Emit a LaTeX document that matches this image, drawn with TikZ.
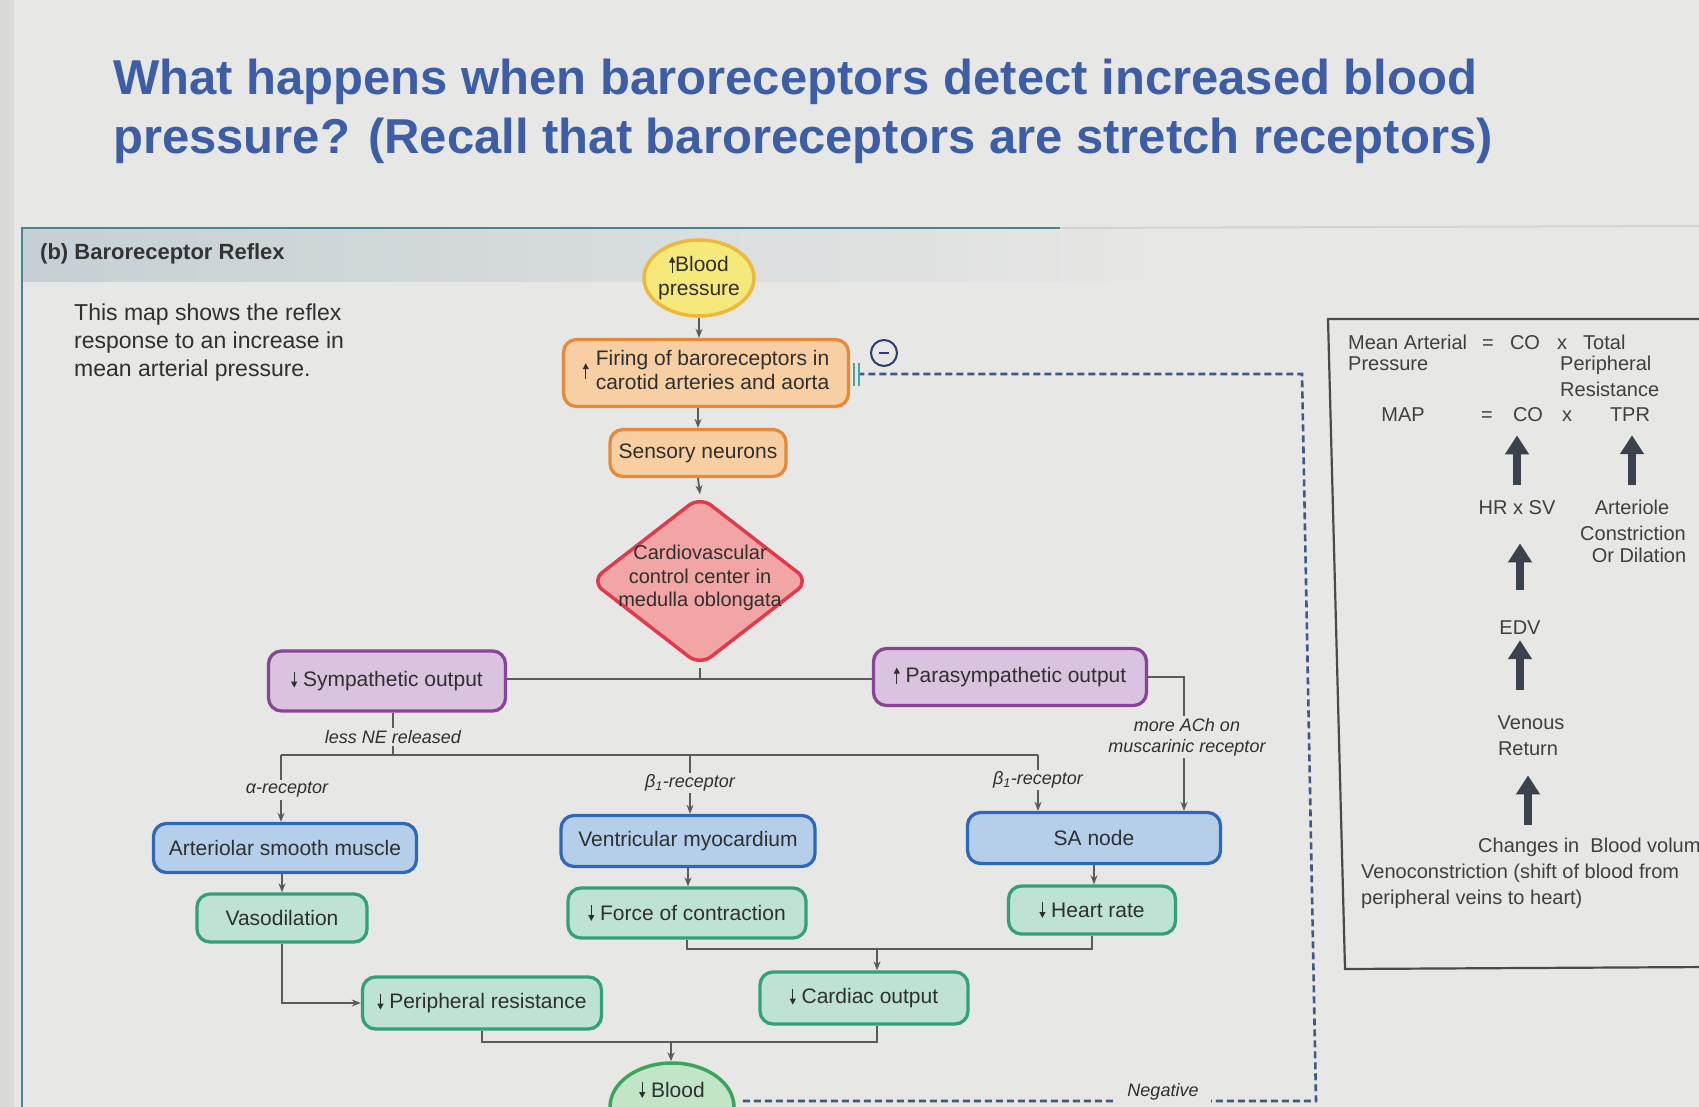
\documentclass[tikz,border=0pt]{standalone}
\usepackage{fontspec}
\setmainfont{Liberation Sans}
\usetikzlibrary{shapes.geometric,arrows.meta,calc}
\definecolor{bg}{HTML}{E7E7E5}
\definecolor{edgeC}{HTML}{DADAD8}
\definecolor{band}{HTML}{C6D0D4}
\definecolor{panelC}{HTML}{4A8494}
\definecolor{faint}{HTML}{D2D4D4}
\definecolor{titleC}{HTML}{3D5EA6}
\definecolor{hdrC}{HTML}{333333}
\definecolor{txt}{HTML}{2F2F2F}
\definecolor{orgL}{HTML}{F7CFA3}
\definecolor{orgD}{HTML}{E8893A}
\definecolor{yelL}{HTML}{F5E97C}
\definecolor{yelD}{HTML}{EDB93A}
\definecolor{redL}{HTML}{F2A5A5}
\definecolor{redD}{HTML}{E03A4C}
\definecolor{purL}{HTML}{D9C3DF}
\definecolor{purD}{HTML}{8A4497}
\definecolor{bluL}{HTML}{B5CFEA}
\definecolor{bluD}{HTML}{2E69B9}
\definecolor{grnL}{HTML}{BEE3D3}
\definecolor{grnD}{HTML}{33A07C}
\definecolor{bldL}{HTML}{C2E5C8}
\definecolor{bldD}{HTML}{3DA45C}
\definecolor{lineC}{HTML}{5B5B5B}
\definecolor{fbC}{HTML}{3E5A84}
\definecolor{navy}{HTML}{2B3D6E}
\definecolor{tealI}{HTML}{4AA39C}
\definecolor{rpC}{HTML}{3F3F3F}
\definecolor{arrC}{HTML}{3A424C}
\definecolor{boxC}{HTML}{4A4A4A}
\newcommand\uarr{\tikz[baseline=0pt]\draw[draw=txt, line width=1.1pt, -{Triangle[length=6pt,width=6pt]}] (0pt,-1pt) -- (0pt,15pt);}
\newcommand\darr{\tikz[baseline=0pt]\draw[draw=txt, line width=1.1pt, -{Triangle[length=6pt,width=6pt]}] (0pt,15pt) -- (0pt,-1pt);}
\begin{document}
\begin{tikzpicture}[x=1pt,y=-1pt]
\tikzset{
 nd/.style={rounded corners=13pt, line width=3.3pt, inner sep=0pt, align=center,
   font=\fontsize{21}{24}\selectfont, text=txt},
 ob/.style={nd, draw=orgD, fill=orgL},
 pb/.style={nd, draw=purD, fill=purL},
 bb/.style={nd, draw=bluD, fill=bluL},
 gb/.style={nd, draw=grnD, fill=grnL},
 sz/.style 2 args={minimum width=#1pt, minimum height=#2pt},
 conn/.style={draw=lineC, line width=1.8pt},
 arr/.style={conn, -{Stealth[length=9pt,width=7pt]}},
 lab/.style={font=\fontsize{18}{21}\selectfont\itshape, text=txt, fill=bg, inner sep=2pt, align=center},
 fb/.style={draw=fbC, line width=2.6pt, dash pattern=on 7pt off 4pt},
 rp/.style={font=\fontsize{20}{24}\selectfont, text=rpC, inner sep=0pt},
 bigarr/.style={draw=arrC, line width=7.5pt, -{Triangle[length=19pt,width=23pt]}},
 ttl/.style={font=\bfseries\fontsize{49}{59}\selectfont, text=titleC, inner sep=0pt, anchor=base west},
}
\useasboundingbox (0,0) rectangle (1699,1107);
\clip (0,0) rectangle (1699,1107);
\fill[bg] (0,0) rectangle (1699,1107);
\fill[edgeC] (0,0) rectangle (14,1107);
% panel header
\shade[left color=band, right color=bg] (22,229) rectangle (1160,281);
\draw[panelC, line width=2.5pt] (22,1107) -- (22,228) -- (1060,228);
\draw[faint, line width=2pt] (1060,228) -- (1699,226);

% title
\node[ttl] (t1) at (113,95) {What happens when baroreceptors detect increased blood};
\node[ttl] (t2) at (113,154) {pressure? (Recall that baroreceptors are stretch receptors)};

\node[anchor=base west, inner sep=0, font=\bfseries\fontsize{22}{26}\selectfont, text=hdrC] (hdr) at (40,260) {(b) Baroreceptor Reflex};
\node[anchor=north west, inner sep=0, align=left, font=\fontsize{23}{28}\selectfont, text=txt] (desc) at (74,304)
  {This map shows the reflex\\response to an increase in\\mean arterial pressure.};

% chart nodes
\node[ellipse, draw=yelD, fill=yelL, line width=3.5pt, minimum width=110pt, minimum height=76pt, inner sep=0pt] (bp) at (699,278) {};
\node[font=\fontsize{21}{24}\selectfont, text=txt, align=center, inner sep=0pt] (bpt) at (699,278) {\uarr Blood\\pressure};
\node[ob, sz={285}{67}] (fire) at (706,373) {\uarr\hspace{7pt}\begin{tabular}{@{}c@{}}Firing of baroreceptors in\\carotid arteries and aorta\end{tabular}};
\node[ob, sz={176}{47}] (sens) at (698,453) {Sensory neurons};
\node[diamond, draw=redD, fill=redL, line width=3.5pt, rounded corners=14pt, minimum width=219pt, minimum height=170pt, inner sep=0pt] (cvc) at (700,581) {};
\node[font=\fontsize{20}{23.5}\selectfont, text=txt, align=center, inner sep=0pt] (cvct) at (700,578) {Cardiovascular\\control center in\\medulla oblongata};
\node[pb, sz={237}{60}] (symp) at (387,681) {\darr\ Sympathetic output};
\node[pb, sz={273}{57}] (para) at (1010,677) {\uarr\ Parasympathetic output};
\node[bb, sz={263}{49}] (asm) at (285,848) {Arteriolar smooth muscle};
\node[bb, sz={254}{51}] (vm) at (688,841) {Ventricular myocardium};
\node[bb, sz={253}{51}] (sa) at (1094,838) {SA node};
\node[gb, sz={170}{48}] (vaso) at (282,918) {Vasodilation};
\node[gb, sz={238}{50}] (force) at (687,913) {\darr\ Force of contraction};
\node[gb, sz={167}{48}] (hr) at (1092,910) {\darr\ Heart rate};
\node[gb, sz={239}{52}] (per) at (482,1003) {\darr\ Peripheral resistance};
\node[gb, sz={208}{52}] (co) at (864,998) {\darr\ Cardiac output};
\node[ellipse, draw=bldD, fill=bldL, line width=3.5pt, minimum width=124pt, minimum height=88pt, inner sep=0pt] (blood) at (672,1107) {};
\node[font=\fontsize{21}{24}\selectfont, text=txt, inner sep=0pt] (bloodt) at (672,1090) {\darr\ Blood};

% coordinates
\coordinate (j1) at (700,679);
\coordinate (sj) at (393,755);
\coordinate (hL) at (281,755);
\coordinate (hM) at (690,755);
\coordinate (hR) at (1038,755);
\coordinate (achx) at (1184,0);
\coordinate (m1) at (877,949);
\coordinate (m2) at (877,1042);
\coordinate (m3) at (671,1042);
\coordinate (fbA) at (1316,1101);
\coordinate (fbB) at (1302,374);
\coordinate (inh) at (859,374);

% connectors
\draw[arr] (bp.south) -- (bp.south |- fire.north);
\draw[arr] (sens.north |- fire.south) -- (sens.north);
\draw[arr] (sens.south) -- (cvc.north);
\draw[conn] (symp.east |- j1) -- (para.west |- j1);
\draw[conn] (cvc.south) -- (j1);
\draw[conn] (sj |- symp.south) -- (sj);
\draw[conn] (hL) -- (hR);
\draw[arr] (hL) -- (hL |- asm.north);
\draw[arr] (hM) -- (hM |- vm.north);
\draw[arr] (hR) -- (hR |- sa.north);
\draw[arr] (para.east) -| (sa.north -| achx);
\draw[arr] (vaso.north |- asm.south) -- (vaso.north);
\draw[arr] (vaso.south) |- (per.west);
\draw[arr] (vm.south) -- (vm.south |- force.north);
\draw[arr] (sa.south) -- (sa.south |- hr.north);
\draw[conn] (force.south) |- (m1) -| (hr.south);
\draw[arr] (m1) -- (m1 |- co.north);
\draw[conn] (per.south) |- (m2) -- (m2 |- co.south);
\draw[arr] (m3) -- (m3 |- blood.north);

% negative feedback
\draw[fb] ([shift={(7,-6)}]blood.east) -- (fbA) -- (fbB) -- (inh);
\draw[draw=fbC, line width=2.4pt] (inh) -- ++(5,0);
\draw[draw=tealI, line width=2.2pt] (854,363) -- (854,386);
\draw[draw=tealI, line width=2.2pt] (859,363) -- (859,386);
\node[circle, draw=navy, line width=2pt, minimum size=26pt, inner sep=0pt] (neg) at (884,353) {};
\draw[navy, line width=2pt] ($(neg)+(-5,0)$) -- ($(neg)+(5,0)$);

% labels
\node[lab] (lne) at (393,737) {less NE released};
\node[lab] (lal) at (287,790) {α-receptor};
\node[lab] (lb1) at (690,783) {β\textsubscript{1}-receptor};
\node[lab] (lb2) at (1038,780) {β\textsubscript{1}-receptor};
\node[lab] (lach) at (1187,737) {more ACh on\\muscarinic receptor};
\node[lab, inner xsep=12pt, inner ysep=4pt] (lneg) at (1163,1092) {Negative};

% right panel
\draw[boxC, line width=2.2pt] (1710,319) -- (1328,319) -- (1345,969) -- (1710,967);
\node[rp, anchor=base west] (mean) at (1348,349) {Mean Arterial};
\node[rp, anchor=base] (eq1) at (1488,349) {=};
\node[rp, anchor=base] (co1) at (1525,349) {CO};
\node[rp, anchor=base] (x1) at (1562,349) {x};
\node[rp, anchor=base west] (tot) at (1583,349) {Total};
\node[rp, anchor=base west] (press) at (1348,370) {Pressure};
\node[rp, anchor=base west] (perr) at (1560,370) {Peripheral};
\node[rp, anchor=base west] (res) at (1560,396) {Resistance};
\node[rp, anchor=base] (map) at (1403,421) {MAP};
\node[rp, anchor=base] (eq2) at (1487,421) {=};
\node[rp, anchor=base] (co2) at (1528,421) {CO};
\node[rp, anchor=base] (x2) at (1567,421) {x};
\node[rp, anchor=base] (tpr) at (1630,421) {TPR};
\node[rp, anchor=base] (hrsv) at (1517,514) {HR x SV};
\node[rp, anchor=base] (art) at (1632,514) {Arteriole};
\node[rp, anchor=base] (cons) at (1633,540) {Constriction};
\node[rp, anchor=base] (dil) at (1639,562) {Or Dilation};
\node[rp, anchor=base] (edv) at (1520,634) {EDV};
\node[rp, anchor=base] (ven1) at (1531,729) {Venous};
\node[rp, anchor=base] (ven2) at (1528,755) {Return};
\node[rp, anchor=base west] (chg) at (1478,852) {Changes in\ \ Blood volume};
\node[rp, anchor=base west] (veno) at (1361,878) {Venoconstriction (shift of blood from};
\node[rp, anchor=base west] (perv) at (1361,904) {peripheral veins to heart)};

\draw[bigarr, shorten <=14.7pt, shorten >=14pt] (hrsv.north) -- (hrsv.north |- co2.south);
\draw[bigarr, shorten <=14.4pt, shorten >=14pt] (art.north) -- (art.north |- tpr.south);
\draw[bigarr, shorten <=29.7pt, shorten >=29pt] (edv.north) -- (edv.north |- hrsv.south);
\draw[bigarr, shorten <=24.7pt, shorten >=6pt] (edv.south |- ven1.north) -- (edv.south);
\draw[bigarr, shorten <=12.4pt, shorten >=20pt] (ven2.south |- chg.north) -- (ven2.south);
\end{tikzpicture}
\end{document}
